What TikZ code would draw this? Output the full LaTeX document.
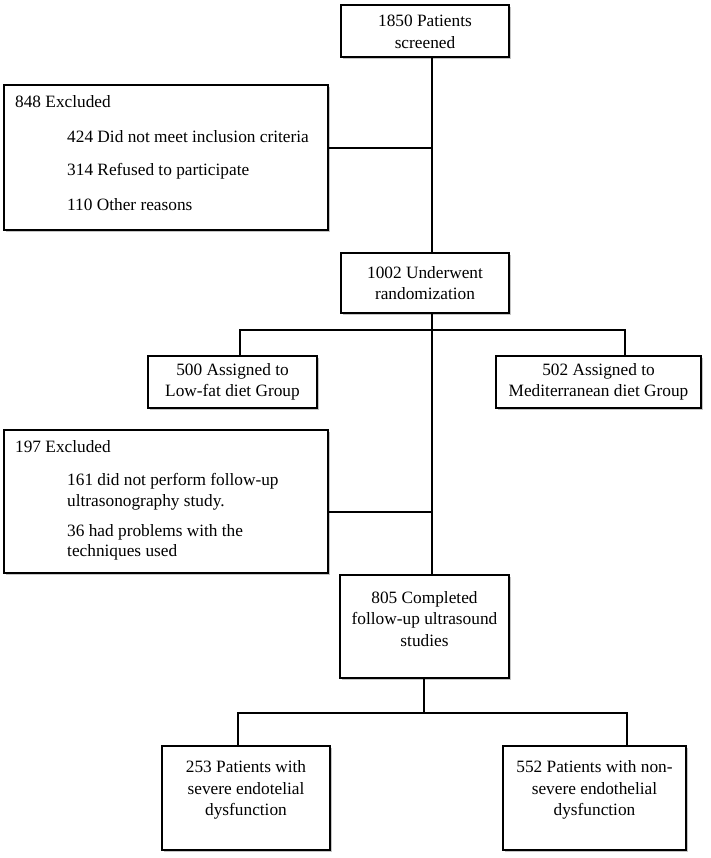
\documentclass[tikz,border=0pt]{standalone}
\usepackage{fontspec}
\setmainfont{Liberation Serif}
\usetikzlibrary{shadows}
\begin{document}
\begin{tikzpicture}[x=1pt,y=-1pt,
  box/.style={draw=black, line width=1.4pt, fill=white, rectangle, inner sep=0pt,
    drop shadow={shadow xshift=2pt, shadow yshift=-2pt, fill=black!45, opacity=0.5}},
  lbl/.style={font=\fontsize{17.3}{21.5}\selectfont, align=center, inner sep=0pt},
  item/.style={font=\fontsize{17.3}{20.5}\selectfont, align=left, inner sep=0pt, anchor=west},
  link/.style={line width=2.1pt}]
\useasboundingbox (0,0) rectangle (710,858);

% junction coordinates
\coordinate (j1) at (432,148);
\coordinate (j2) at (432,330);
\coordinate (j2l) at (240,330);
\coordinate (j2r) at (625,330);
\coordinate (j3) at (432,512);
\coordinate (j4) at (424,713);
\coordinate (j4l) at (238,713);
\coordinate (j4r) at (627,713);

% boxes
\node[box, minimum width=168pt, minimum height=52pt] (b1) at (425,31) {};
\node[box, minimum width=324pt, minimum height=145pt] (ex1) at (166,157.5) {};
\node[box, minimum width=168pt, minimum height=60pt] (b2) at (425,283) {};
\node[box, minimum width=169pt, minimum height=52pt] (bl) at (232.5,382) {};
\node[box, minimum width=205pt, minimum height=52pt] (br) at (598.5,382) {};
\node[box, minimum width=324pt, minimum height=143pt] (ex2) at (166,501.5) {};
\node[box, minimum width=169pt, minimum height=103pt] (b3) at (424.5,626.5) {};
\node[box, minimum width=168pt, minimum height=104pt] (bbl) at (246,798) {};
\node[box, minimum width=183pt, minimum height=104pt] (bbr) at (594.5,798) {};

% connectors
\draw[link] (b1.south -| j1) -- (b2.north -| j1);
\draw[link] (ex1.east |- j1) -- (j1);
\draw[link] (b2.south -| j2) -- (b3.north -| j2);
\draw[link] (j2l |- bl.north) -- (j2l) -- (j2r) -- (j2r |- br.north);
\draw[link] (ex2.east |- j3) -- (j3);
\draw[link] (b3.south -| j4) -- (j4);
\draw[link] (j4l |- bbl.north) -- (j4l) -- (j4r) -- (j4r |- bbr.north);

% texts
\node[lbl] (t1) at (425,32) {1850 Patients\\screened};
\node[lbl] (t2) at (425,283) {1002 Underwent\\randomization};
\node[lbl] (tl) at (232.5,382) {500 Assigned to\\Low-fat diet Group};
\node[lbl] (tr) at (598.5,382) {502 Assigned to\\Mediterranean diet Group};
\node[lbl] (t3) at (424.5,619) {805 Completed\\follow-up ultrasound\\studies};
\node[lbl] (tbl) at (246,790) {253 Patients with\\severe endotelial\\dysfunction};
\node[lbl] (tbr) at (594.5,790) {552 Patients with non-\\severe endothelial\\dysfunction};

\node[item] (e1a) at (15,102) {848 Excluded};
\node[item] (e1b) at (67,137) {424 Did not meet inclusion criteria};
\node[item] (e1c) at (67,171) {314 Refused to participate};
\node[item] (e1d) at (67,205) {110 Other reasons};

\node[item] (e2a) at (15,447) {197 Excluded};
\node[item] (e2b) at (67,492) {161 did not perform follow-up\\ultrasonography study.};
\node[item] (e2c) at (67,542.5) {36 had problems with the\\techniques used};
\end{tikzpicture}
\end{document}
